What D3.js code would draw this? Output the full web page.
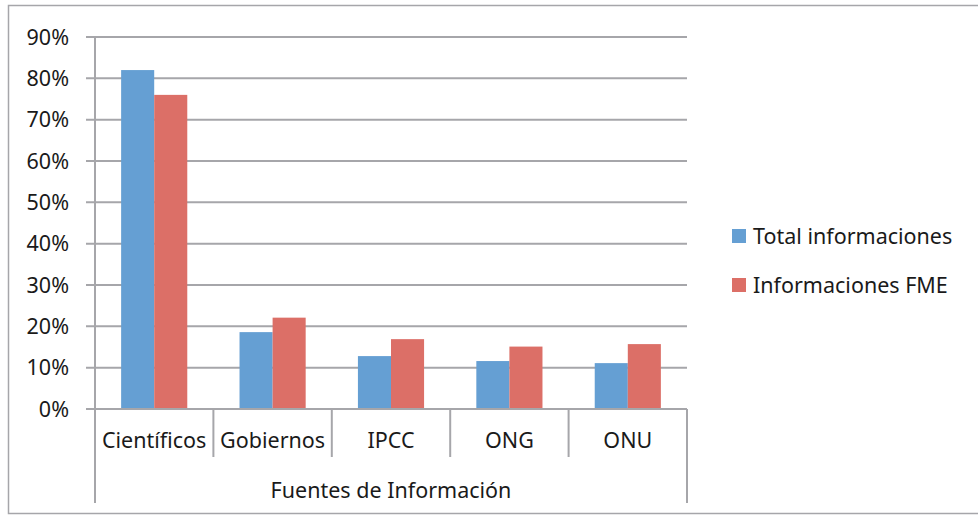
<!DOCTYPE html>
<html>
<head>
<meta charset="utf-8">
<script src="https://cdn.jsdelivr.net/npm/d3@7"></script>
<style>
  body { margin: 0; background: #fff; }
  svg { display: block; }
</style>
</head>
<body>
<svg width="978" height="516"></svg>
<script>
// chart data
const categories = ["Científicos", "Gobiernos", "IPCC", "ONG", "ONU"];
const seriesNames = ["Total informaciones", "Informaciones FME"];
const totalInformaciones = [0.82, 0.186, 0.128, 0.116, 0.111];
const informacionesFME = [0.76, 0.221, 0.169, 0.151, 0.157];
const yTicks = [0, 0.1, 0.2, 0.3, 0.4, 0.5, 0.6, 0.7, 0.8, 0.9];
const axisTitle = "Fuentes de Información";

const colors = ["#659fd3", "#dc6f67"];
const gridColor = "#a6a6aa";
const font = "'Noto Sans', sans-serif";
const textColor = "#1a1a1a";

var svg = d3.select("svg");

// outer chart border (right edge falls outside the picture)
svg.append("rect")
    .attr("x", 8.5).attr("y", 5.5)
    .attr("width", 1000).attr("height", 508)
    .attr("fill", "none")
    .attr("stroke", gridColor)
    .attr("stroke-width", 1.5);

var plotLeft = 95, plotRight = 687, plotTop = 37, plotBottom = 409;

var x = d3.scaleBand().domain(categories).range([plotLeft, plotRight]).padding(0);
var xs = d3.scaleBand().domain(seriesNames).range([0, x.bandwidth()])
    .paddingInner(0).paddingOuter(0.79);
var y = d3.scaleLinear().domain([0, 0.9]).range([plotBottom, plotTop]);

// gridlines + left tick marks
svg.append("g").selectAll("line")
    .data(yTicks)
    .enter().append("line")
    .attr("x1", plotLeft - 9).attr("x2", plotRight)
    .attr("y1", d => y(d)).attr("y2", d => y(d))
    .attr("stroke", gridColor).attr("stroke-width", 2);

// y labels
svg.append("g").selectAll("text")
    .data(yTicks)
    .enter().append("text")
    .attr("x", 69).attr("y", d => y(d))
    .attr("dy", "0.35em")
    .attr("text-anchor", "end")
    .style("font-family", font).style("font-size", "21.5px").style("fill", textColor)
    .text(d3.format(".0%"));

// y axis line
svg.append("line")
    .attr("x1", plotLeft).attr("x2", plotLeft)
    .attr("y1", plotTop).attr("y2", plotBottom)
    .attr("stroke", gridColor).attr("stroke-width", 2);

// bars
var rows = categories.map((c, i) => ({ cat: c, vals: [totalInformaciones[i], informacionesFME[i]] }));
var groups = svg.append("g").selectAll("g")
    .data(rows)
    .enter().append("g")
    .attr("transform", d => "translate(" + x(d.cat) + ",0)");

groups.selectAll("rect")
    .data(d => d.vals.map((v, j) => ({ s: seriesNames[j], v: v, j: j })))
    .enter().append("rect")
    .attr("x", d => xs(d.s))
    .attr("width", xs.bandwidth())
    .attr("y", d => y(d.v))
    .attr("height", d => y(0) - y(d.v))
    .attr("fill", d => colors[d.j]);

// x axis line
svg.append("line")
    .attr("x1", plotLeft - 9).attr("x2", plotRight)
    .attr("y1", plotBottom).attr("y2", plotBottom)
    .attr("stroke", gridColor).attr("stroke-width", 2);

// category dividers (inner ones short, outer ones long)
var edges = categories.map(c => x(c)).concat([plotRight]);
svg.append("g").selectAll("line")
    .data(edges)
    .enter().append("line")
    .attr("x1", d => d).attr("x2", d => d)
    .attr("y1", plotBottom)
    .attr("y2", (d, i) => (i === 0 || i === edges.length - 1) ? 503 : 457)
    .attr("stroke", gridColor).attr("stroke-width", 2);

// category labels
svg.append("g").selectAll("text")
    .data(categories)
    .enter().append("text")
    .attr("x", d => x(d) + x.bandwidth() / 2)
    .attr("y", 440)
    .attr("dy", "0.35em")
    .attr("text-anchor", "middle")
    .style("font-family", font).style("font-size", "21.5px").style("fill", textColor)
    .text(d => d);

svg.append("text")
    .attr("x", (plotLeft + plotRight) / 2).attr("y", 490)
    .attr("dy", "0.35em")
    .attr("text-anchor", "middle")
    .style("font-family", font).style("font-size", "21.5px").style("fill", textColor)
    .text(axisTitle);

// legend
var legend = svg.append("g").selectAll("g")
    .data(seriesNames)
    .enter().append("g")
    .attr("transform", (d, i) => "translate(732," + (229 + i * 49) + ")");

legend.append("rect")
    .attr("width", 14).attr("height", 14)
    .attr("fill", (d, i) => colors[i]);

legend.append("text")
    .attr("x", 21).attr("y", 7)
    .attr("dy", "0.35em")
    .style("font-family", font).style("font-size", "21.5px").style("fill", textColor)
    .text(d => d);
</script>
</body>
</html>
